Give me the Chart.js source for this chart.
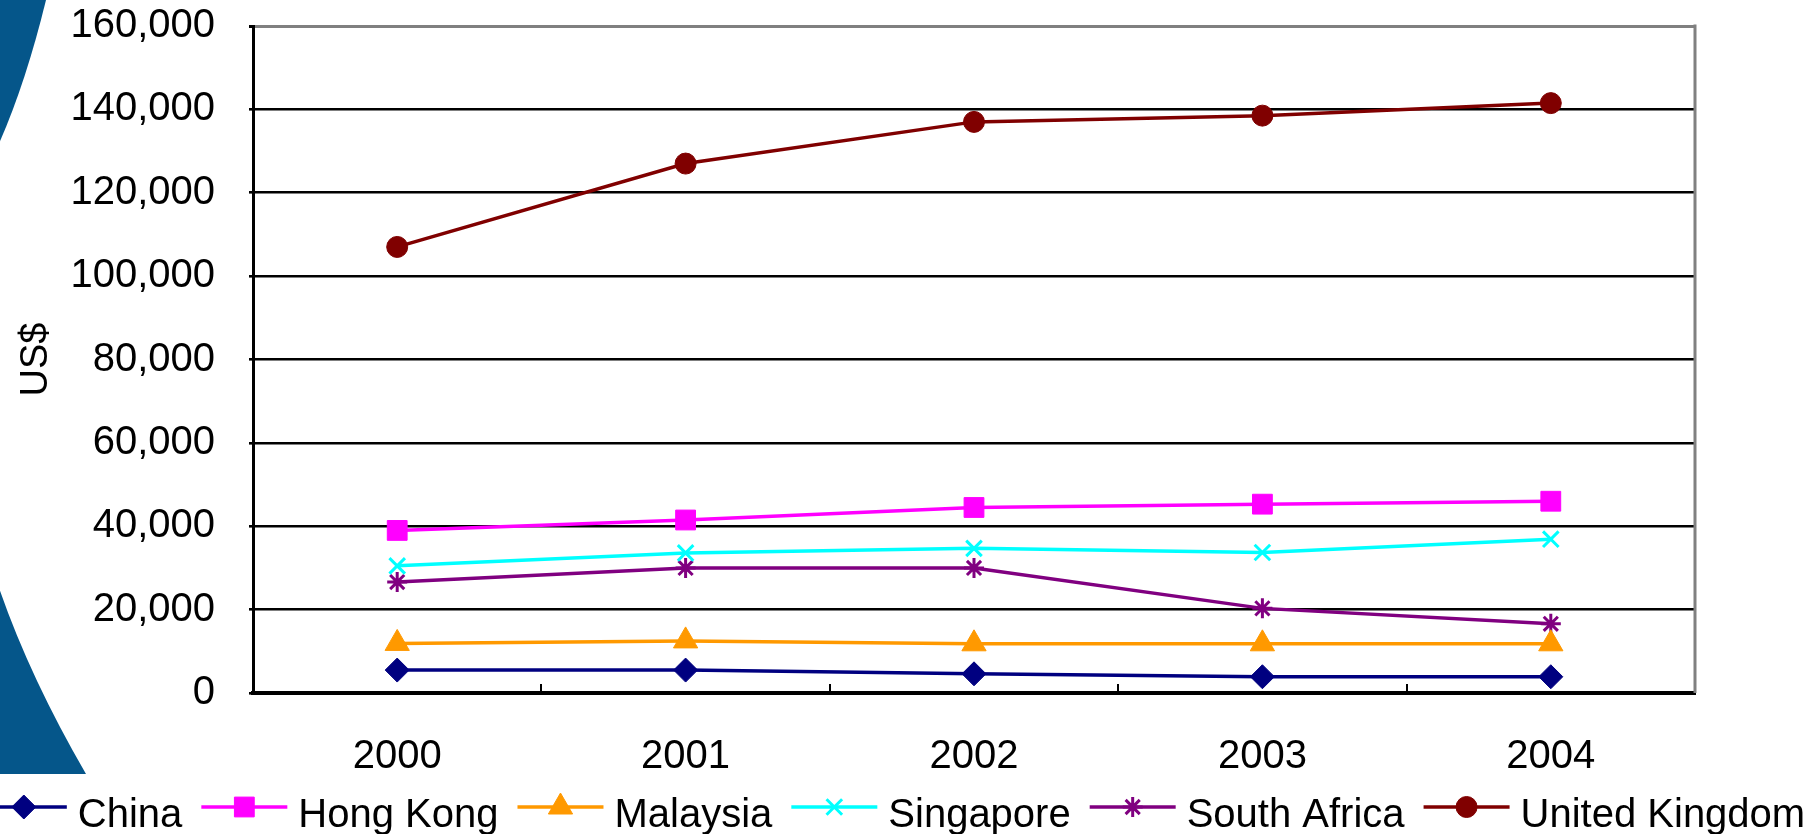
<!DOCTYPE html>
<html>
<head>
<meta charset="utf-8">
<title>US$ by country, 2000-2004</title>
<script src="https://cdn.jsdelivr.net/npm/chart.js@4/dist/chart.umd.min.js"></script>
<style>
    html, body { margin: 0; padding: 0; background: #fff; }
    canvas { display: block; }
</style>
</head>
<body>
<canvas id="countryChart" width="1818" height="834"></canvas>
<script>
// Categories and series values
const years = ['2000', '2001', '2002', '2003', '2004'];
const china = [5500, 5500, 4600, 3900, 3900];
const hongKong = [39000, 41500, 44500, 45300, 46000];
const malaysia = [11900, 12500, 11800, 11800, 11800];
const singapore = [30500, 33600, 34700, 33700, 36900];
const southAfrica = [26600, 30000, 30000, 20300, 16600];
const unitedKingdom = [107000, 127000, 137000, 138500, 141500];

const yMin = 0;
const yMax = 160000;
const yStep = 20000;

const FONT = '"Liberation Sans", Arial, Helvetica, sans-serif';

// One line series with its marker
function series(label, data, color, pointStyle, radius) {
    return {
        label: label,
        data: data,
        borderColor: color,
        backgroundColor: color,
        borderWidth: 3.5,
        pointStyle: pointStyle,
        pointRadius: radius,
        pointHoverRadius: radius,
        pointBackgroundColor: color,
        pointBorderColor: color,
        pointBorderWidth: pointStyle === 'crossRot' || pointStyle === 'star' ? 3 : 1,
        tension: 0
    };
}

const datasets = [
    series('China', china, '#000080', 'rectRot', 12),
    series('Hong Kong', hongKong, '#ff00ff', 'rect', 14),
    series('Malaysia', malaysia, '#ff9900', 'triangle', 14),
    series('Singapore', singapore, '#00ffff', 'crossRot', 11),
    series('South Africa', southAfrica, '#800080', 'star', 10),
    series('United Kingdom', unitedKingdom, '#800000', 'circle', 10.5)
];

// Blue slide background curving in from the left edge
const backdrop = {
    id: 'backdrop',
    beforeDraw(chart) {
        const ctx = chart.ctx;
        ctx.save();
        ctx.fillStyle = '#05568a';
        ctx.beginPath();
        ctx.moveTo(-5, 0);
        ctx.lineTo(46, 0);
        ctx.quadraticCurveTo(25, 86, -3, 148);
        ctx.closePath();
        ctx.fill();
        ctx.beginPath();
        ctx.moveTo(-3, 582);
        ctx.quadraticCurveTo(28, 674, 86, 774);
        ctx.lineTo(-5, 774);
        ctx.closePath();
        ctx.fill();
        ctx.restore();
    }
};

// Gray frame on the right, short tick marks between categories
const frame = {
    id: 'frame',
    beforeDatasetsDraw(chart) {
        const {ctx, chartArea, scales: {x}} = chart;
        ctx.save();
        ctx.strokeStyle = '#808080';
        ctx.lineWidth = 3;
        ctx.beginPath();
        ctx.moveTo(chartArea.right, chartArea.top - 1.5);
        ctx.lineTo(chartArea.right, chartArea.bottom);
        ctx.stroke();
        ctx.strokeStyle = '#000';
        ctx.lineWidth = 2;
        for (let i = 1; i < x.ticks.length; i++) {
            const px = Math.round((x.getPixelForTick(i - 1) + x.getPixelForTick(i)) / 2);
            ctx.beginPath();
            ctx.moveTo(px, chartArea.bottom);
            ctx.lineTo(px, chartArea.bottom - 9);
            ctx.stroke();
        }
        ctx.restore();
    }
};

// Legend row: line with marker, then the label
const lineLegend = {
    id: 'lineLegend',
    afterDraw(chart) {
        const ctx = chart.ctx;
        const lineLen = 86, gap = 11, spacing = 19;
        const lineY = 807, textY = 827;
        ctx.save();
        ctx.font = '40px ' + FONT;
        const items = chart.data.datasets.map(ds => ({ ds, w: ctx.measureText(ds.label).width }));
        const total = items.reduce((s, it) => s + lineLen + gap + it.w, 0) + spacing * (items.length - 1);
        let x = (chart.width - total) / 2 - 16;
        items.forEach(({ ds, w }) => {
            ctx.strokeStyle = ds.borderColor;
            ctx.fillStyle = ds.backgroundColor;
            ctx.lineWidth = 3.5;
            ctx.beginPath();
            ctx.moveTo(x, lineY);
            ctx.lineTo(x + lineLen, lineY);
            ctx.stroke();
            ctx.lineWidth = ds.pointBorderWidth;
            Chart.helpers.drawPoint(ctx, {
                pointStyle: ds.pointStyle,
                radius: ds.pointRadius,
                borderWidth: ds.pointBorderWidth,
                rotation: 0
            }, x + lineLen / 2, lineY);
            ctx.fillStyle = '#000';
            ctx.textAlign = 'left';
            ctx.textBaseline = 'alphabetic';
            ctx.fillText(ds.label, x + lineLen + gap, textY);
            x += lineLen + gap + w + spacing;
        });
        ctx.restore();
    }
};

const ctx = document.getElementById('countryChart').getContext('2d');
const countryChart = new Chart(ctx, {
    type: 'line',
    data: {
        labels: years,
        datasets: datasets
    },
    options: {
        responsive: false,
        animation: false,
        layout: {
            padding: { top: 26, right: 123, bottom: 0, left: 0 }
        },
        plugins: {
            legend: { display: false },
            tooltip: { enabled: false }
        },
        scales: {
            x: {
                offset: true,
                grid: { display: false },
                border: { display: true, color: '#000', width: 4 },
                ticks: {
                    color: '#000',
                    padding: 32,
                    font: { family: FONT, size: 40 }
                },
                afterFit: scale => { scale.height = 141; }
            },
            y: {
                min: yMin,
                max: yMax,
                grid: {
                    color: c => c.tick && c.tick.value === yMax ? '#808080' : '#000',
                    lineWidth: c => c.tick && c.tick.value === yMax ? 3 : 2.6,
                    tickColor: '#000',
                    tickLength: 4
                },
                border: { display: true, color: '#000', width: 3 },
                ticks: {
                    stepSize: yStep,
                    color: '#000',
                    padding: 34,
                    font: { family: FONT, size: 40 }
                },
                title: {
                    display: true,
                    text: 'US$',
                    color: '#000',
                    padding: { top: 14, bottom: 0 },
                    font: { family: FONT, size: 38 }
                },
                afterFit: scale => {
                    scale.width = 253;
                    scale.paddingTop = 0;
                    scale.paddingBottom = 0;
                }
            }
        }
    },
    plugins: [backdrop, frame, lineLegend]
});
</script>
</body>
</html>
